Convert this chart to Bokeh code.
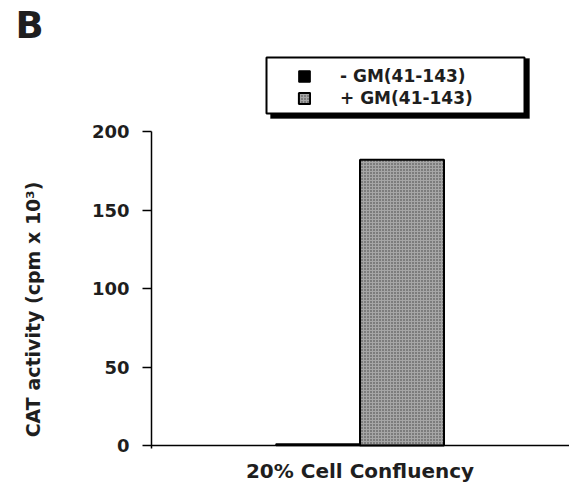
from math import pi
from bokeh.plotting import figure
from bokeh.models import (Range1d, FixedTicker, Label, BoxAnnotation,
                          Legend, LegendItem, ColumnDataSource)
from bokeh.core.properties import value
from bokeh.transform import dodge
from bokeh.embed import file_html
from bokeh.resources import INLINE

# ---- data ----
categories = ["20% Cell Confluency"]
minus_gm = [1.0]
plus_gm = [182.0]
series_labels = ["- GM(41-143)", "+ GM(41-143)"]
y_ticks = [0, 50, 100, 150, 200]
y_title = "CAT activity (cpm x 10\u00b3)"
panel_letter = "B"

FONT = "DejaVu Sans"
INK = "#1e1e1e"

xpos = list(range(len(categories)))
src = ColumnDataSource(dict(x=xpos, cat=categories, minus=minus_gm, plus=plus_gm))

X0, X1 = -1.712, 0.9976      # visible x extent
Y0, Y1 = -26.75, 283.44      # visible y extent
YAXIS_AT = -0.9929           # x position of the value axis

p = figure(width=569, height=487, x_range=Range1d(X0, X1),
           y_range=Range1d(Y0, Y1), output_backend="svg",
           toolbar_location=None, min_border_left=0, min_border_right=0,
           min_border_top=0, min_border_bottom=0)
p.outline_line_color = None
p.xgrid.visible = False
p.ygrid.visible = False

bw = 0.4
r1 = p.vbar(x=dodge("x", -bw / 2), top="minus", width=bw, source=src,
            fill_color="black", line_color="black", line_width=1.5)
r2 = p.vbar(x=dodge("x", bw / 2), top="plus", width=bw, source=src,
            fill_color="#a6a6a6", line_color="black", line_width=2,
            hatch_pattern="dot", hatch_scale=3, hatch_color="#3c3c3c",
            hatch_weight=1)

# x axis drawn at y = 0
xa = p.xaxis[0]
xa.fixed_location = 0
xa.bounds = (YAXIS_AT, X1)
xa.ticker = FixedTicker(ticks=xpos)
xa.major_label_overrides = {i: c for i, c in zip(xpos, categories)}
xa.axis_line_width = 1.5
xa.major_tick_out = 0
xa.major_tick_in = 0
xa.minor_tick_line_color = None
xa.major_label_text_font = FONT
xa.major_label_text_font_style = "bold"
xa.major_label_text_font_size = "20px"
xa.major_label_text_color = INK
xa.major_label_standoff = 13

# y axis
ya = p.yaxis[0]
ya.fixed_location = YAXIS_AT
ya.ticker = FixedTicker(ticks=y_ticks)
ya.bounds = (-2, 200)
ya.major_tick_out = 9
ya.major_tick_in = 0
ya.minor_tick_line_color = None
ya.axis_line_width = 1.5
ya.major_tick_line_width = 1.5
ya.major_label_text_font = FONT
ya.major_label_text_font_style = "bold"
ya.major_label_text_font_size = "18px"
ya.major_label_text_color = INK
ya.major_label_standoff = 13

# y title and panel letter
p.add_layout(Label(x=32, y=309, x_units="canvas", y_units="canvas",
                   text=y_title, angle=pi / 2, text_align="center",
                   text_baseline="middle", text_font=FONT,
                   text_font_style="bold", text_font_size="19px",
                   text_color=INK))
p.add_layout(Label(x=15, y=25, x_units="canvas", y_units="canvas",
                   text=panel_letter, text_align="left",
                   text_baseline="alphabetic", text_font=FONT,
                   text_font_style="bold", text_font_size="37px",
                   text_color=INK))

# legend box with shadow
p.add_layout(BoxAnnotation(left=270, right=529, top=58, bottom=118,
                           left_units="canvas", right_units="canvas",
                           top_units="canvas", bottom_units="canvas",
                           fill_color="black", fill_alpha=1, line_color="black"))
p.add_layout(BoxAnnotation(left=266, right=524, top=57, bottom=113,
                           left_units="canvas", right_units="canvas",
                           top_units="canvas", bottom_units="canvas",
                           fill_color="white", fill_alpha=1, line_color="black",
                           line_width=2, line_alpha=1))

legend = Legend(items=[LegendItem(label=series_labels[0], renderers=[r1]),
                       LegendItem(label=series_labels[1], renderers=[r2])],
                location=(297, 379), padding=0, margin=0, spacing=2,
                label_height=20, glyph_width=14, glyph_height=14,
                label_standoff=29, background_fill_alpha=0,
                border_line_alpha=0, label_text_font=FONT,
                label_text_font_style="bold", label_text_font_size="17px",
                label_text_color=INK)
p.add_layout(legend)

open("out.html", "w").write(file_html(p, INLINE))
